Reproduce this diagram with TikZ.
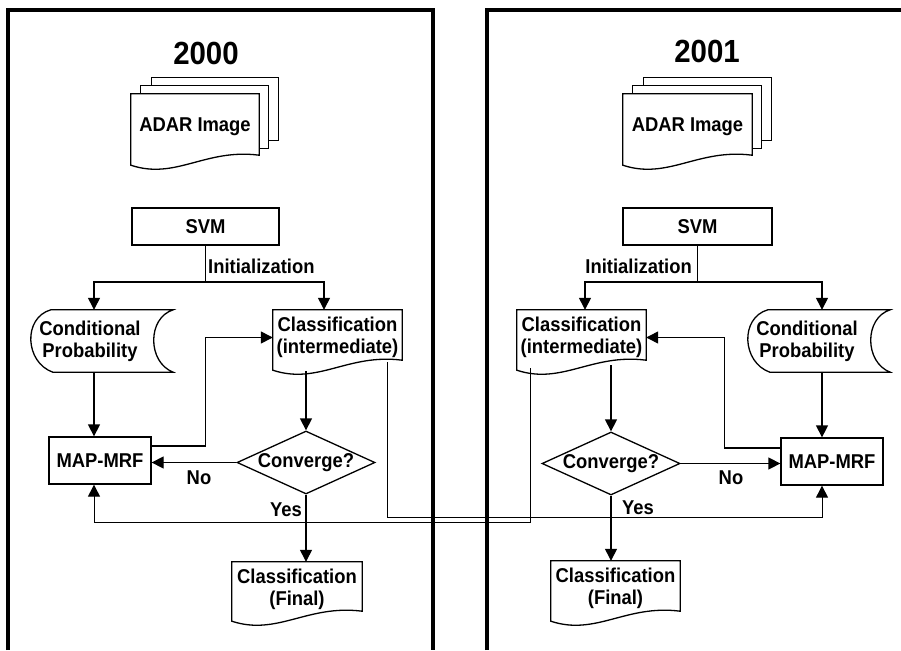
\documentclass[tikz,border=0pt]{standalone}
\usepackage{fontspec}
\setmainfont[FakeStretch=0.92]{Liberation Sans}
\usetikzlibrary{arrows.meta,positioning,calc,shapes.geometric,backgrounds}

\tikzset{
  lbl/.style={font=\fontsize{20}{22}\selectfont\bfseries, inner sep=0pt, align=center},
  hd/.style={font=\fontsize{32}{36}\selectfont\bfseries, inner sep=0pt},
  proc/.style={lbl, draw, line width=1.3pt},
  dec/.style={lbl, draw, line width=1.3pt, shape=diamond, aspect=2.2},
  wire/.style={line width=1.3pt},
  flow/.style={wire, -{Triangle[length=12pt,width=12pt]}},
  xlink/.style={flow, line width=1pt},
  panelline/.style={line width=3.2pt},
}

% document outline with wavy lower edge
\newcommand{\docline}[2][]{%
  \draw[wire,#1] (#2.north west) -- (#2.north east) -- ($(#2.south east)+(0,-5)$)
    .. controls ($(#2.south west)!0.58!(#2.south east)+(0,-12)$) and ($(#2.south west)!0.35!(#2.south east)+(0,20)$)
    .. ($(#2.south west)+(0,5)$) -- cycle;}
% stored data outline
\newcommand{\storeline}[1]{%
  \draw[wire] ($(#1.north west)+(20,0)$) -- ($(#1.north east)+(24,0)$)
    .. controls ($(#1.north east)+(-2,8)$) and ($(#1.south east)+(-2,-10)$) .. ($(#1.south east)+(24,0)$)
    -- ($(#1.south west)+(22,0)$)
    .. controls ($(#1.south west)+(-6,-10)$) and ($(#1.north west)+(-8,8)$) .. ($(#1.north west)+(20,0)$) -- cycle;}
% stack of image sheets
\newcommand{\imgstack}[1]{%
  \begin{pgfonlayer}{background}
    \draw[wire, fill=white] ($(#1.north west)+(21,-16)$) rectangle ($(#1.south east)+(19,-20)$);
    \draw[wire, fill=white] ($(#1.north west)+(10,-8)$) rectangle ($(#1.south east)+(9,-12)$);
    \docline[fill=white]{#1}
  \end{pgfonlayer}}

\begin{document}
\begin{tikzpicture}[x=1pt, y=-1pt]
  \useasboundingbox (0,0) rectangle (901,650);
  \draw[panelline] (8,650) -- (8,10) -- (433,10) -- (433,650);
  \draw[panelline] (487,650) -- (487,10) -- (901,10);

  % 2000
  \node[hd] (yr0) at (206,53) {2000};
  \node[lbl, minimum width=128pt, minimum height=66pt] (img0) at (195,127) {ADAR Image};
  \imgstack{img0}
  \node[proc, minimum width=147pt, minimum height=37pt] (svm0) at (205.5,226.5) {SVM};
  \coordinate (sp0) at (205.5,282);
  \node[lbl, anchor=west] (ini0) at (208,266) {Initialization};
  \node[lbl, minimum width=118pt, minimum height=62pt] (cp0) at (90,341) {Conditional\\Probability};
  \storeline{cp0}
  \node[lbl, minimum width=129pt, minimum height=55pt] (ci0) at (337.5,337.5) {Classification\\(intermediate)};
  \docline{ci0}
  \node[proc, minimum width=102pt, minimum height=47pt] (mr0) at (100,460.5) {MAP-MRF};
  \node[dec, minimum width=138pt, minimum height=63pt] (cv0) at (306,462.5) {Converge?};
  \node[lbl, minimum width=130pt, minimum height=54pt] (cf0) at (297,589) {Classification\\(Final)};
  \docline{cf0}
  \node[lbl] (no0) at (199,478) {No};
  \node[lbl, anchor=east] (yes0) at (302,510) {Yes};

  \draw[wire] (svm0.south) -- (sp0);
  \draw[flow] (sp0) -| ($(mr0.north |- cp0.north)+(-6,0)$);
  \draw[flow] (sp0) -| ($(ci0.north)+(-13.5,0)$);
  \draw[flow] ($(mr0.north |- cp0.south)+(-6,0)$) -- ($(mr0.north)+(-6,0)$);
  \draw[flow] ([yshift=14.5pt]mr0.east) -| (sp0 |- ci0.west) -- (ci0.west);
  \draw[flow] ($(cv0.north |- ci0.south)+(0,6)$) -- (cv0.north);
  \draw[flow] (cv0.west) -- (cv0.west -| mr0.east);
  \draw[flow] (cv0.south) -- (cv0.south |- cf0.north);

  % 2001
  \node[hd] (yr1) at (707,51) {2001};
  \node[lbl, minimum width=129pt, minimum height=66pt] (img1) at (687.5,127) {ADAR Image};
  \imgstack{img1}
  \node[proc, minimum width=149pt, minimum height=37pt] (svm1) at (697.5,226.5) {SVM};
  \coordinate (sp1) at (697.5,282);
  \node[lbl, anchor=east] (ini1) at (692,266) {Initialization};
  \node[lbl, minimum width=129pt, minimum height=55pt] (ci1) at (581.5,337.5) {Classification\\(intermediate)};
  \docline{ci1}
  \node[lbl, minimum width=118pt, minimum height=62pt] (cp1) at (807,341) {Conditional\\Probability};
  \storeline{cp1}
  \node[proc, minimum width=102pt, minimum height=47pt] (mr1) at (832,461.5) {MAP-MRF};
  \node[dec, minimum width=138pt, minimum height=63pt] (cv1) at (611,463.5) {Converge?};
  \node[lbl, minimum width=129pt, minimum height=55pt] (cf1) at (615.5,588.5) {Classification\\(Final)};
  \docline{cf1}
  \node[lbl] (no1) at (731,478) {No};
  \node[lbl, anchor=west] (yes1) at (622,508) {Yes};

  \draw[wire] (svm1.south) -- (sp1);
  \draw[flow] (sp1) -| ($(ci1.north)+(3.5,0)$);
  \draw[flow] (sp1) -| ($(mr1.north |- cp1.north)+(-10,0)$);
  \draw[flow] ($(mr1.north |- cp1.south)+(-10,0)$) -- ($(mr1.north)+(-10,0)$);
  \draw[flow] ([yshift=13.5pt]mr1.west) -| ($(ci1.east)+(78,0)$) -- (ci1.east);
  \draw[flow] (cv1.north |- ci1.south) -- (cv1.north);
  \draw[flow] (cv1.east) -- (cv1.east -| mr1.west);
  \draw[flow] (cv1.south) -- (cv1.south |- cf1.north);

  % links between years
  \draw[xlink] ($(ci0.south east)+(-15,-3)$) |- ($(mr1.south)+(-10,32)$) -- ($(mr1.south)+(-10,0)$);
  \draw[xlink] ($(ci1.south west)+(14,3)$) |- ($(mr0.south)+(-6,38)$) -- ($(mr0.south)+(-6,0)$);
\end{tikzpicture}
\end{document}
